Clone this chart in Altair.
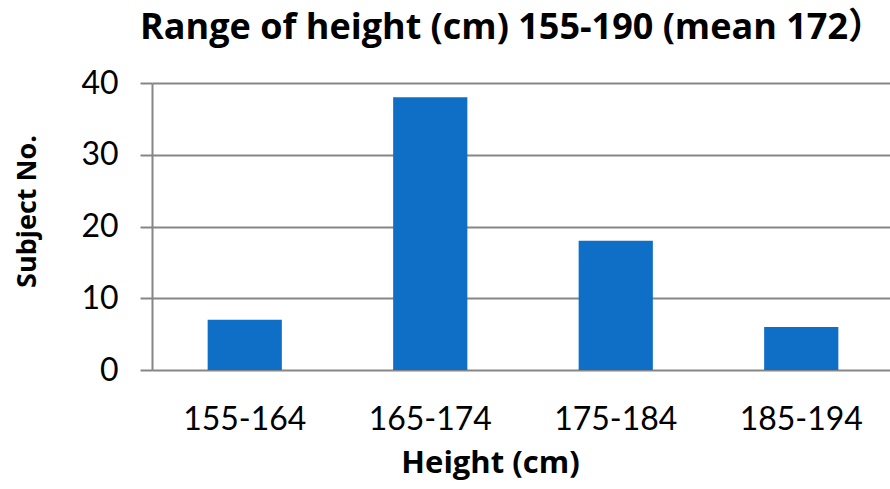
import altair as alt
import pandas as pd

categories = ["155-164", "165-174", "175-184", "185-194"]
counts = [7, 38, 18, 6]
y_ticks = [0, 10, 20, 30, 40]

df = pd.DataFrame({"range": categories, "count": counts})

FONT = "Lato, 'Noto Sans CJK SC', sans-serif"
BFONT = "'Open Sans', 'Noto Sans CJK SC', sans-serif"

chart = alt.Chart(df).mark_bar(color="#0F6FC6").encode(
    x=alt.X("range:N", sort=categories,
            scale=alt.Scale(range=[0, 742], paddingInner=0.6, paddingOuter=0.3),
            axis=alt.Axis(title="Height (cm)", labelAngle=0, domain=False, ticks=False,
                          labelFont=FONT, labelFontSize=32, labelColor="#000000",
                          labelPadding=59, labelBaseline="alphabetic",
                          titleFont=BFONT, titleFontSize=31, titleFontWeight="bold",
                          titleColor="#000000", titleX=338,
                          titleBaseline="alphabetic", titleY=102)),
    y=alt.Y("count:Q", scale=alt.Scale(domain=[0, 40], nice=False),
            axis=alt.Axis(title="Subject No.", values=y_ticks, grid=True,
                          gridColor="#868686", gridWidth=2,
                          domainColor="#868686", domainWidth=2,
                          tickColor="#868686", tickWidth=2, tickSize=12,
                          labelFont=FONT, labelFontSize=32, labelColor="#000000",
                          labelPadding=22,
                          titleFont=BFONT, titleFontSize=27, titleFontWeight="bold",
                          titleColor="#000000", titleAngle=-90,
                          titleX=-125, titleY=128, titleBaseline="middle",
                          titleAlign="center")),
).properties(
    width=738,
    height=287,
    title=alt.TitleParams("Range of height (cm) 155-190 (mean 172）",
                          font=BFONT, fontSize=36, fontWeight="bold",
                          color="#000000", anchor="middle", dx=-9, dy=8,
                          frame="group", baseline="alphabetic", offset=0),
    padding={"left": 152, "top": 83, "right": 0, "bottom": 119},
    autosize=alt.AutoSizeParams(type="none"),
).configure_view(stroke=None).configure_axis(gridCap="butt")

chart.save("out.html", embed_options={"renderer": "svg", "actions": False})
